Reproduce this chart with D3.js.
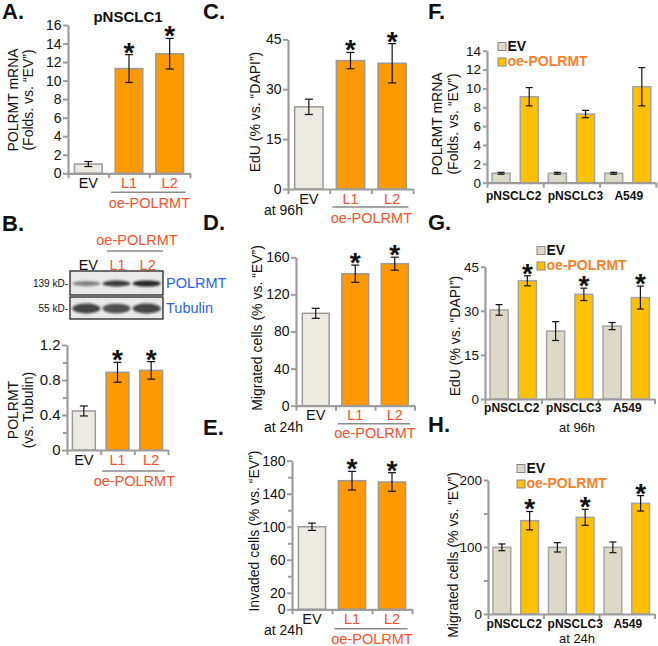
<!DOCTYPE html>
<html><head><meta charset="utf-8">
<script src="https://cdn.jsdelivr.net/npm/d3@7"></script>
<style>body{margin:0;background:#fff} svg{display:block} text{font-family:"Liberation Sans",Arial,sans-serif}</style>
</head><body><svg id="c" width="658" height="646"></svg>
<script>
// ---------- data ----------
const lanes = ["EV","L1","L2"];
const mrnaA = [1.0, 11.3, 12.9], mrnaAErr = [0.27, 1.5, 1.65];
const ticksA = [0,2,4,6,8,10,12,14,16];
const protB = [0.446, 0.888, 0.91], protBErr = [0.057, 0.114, 0.1];
const ticksB = [0,0.4,0.8,1.2], minorB = [0.2,0.6,1.0];
const bandPOLRMT = [0.5, 0.85, 0.95], bandTubulin = [0.8, 0.75, 0.8];
const edUC = [24.7, 38.6, 37.8], edUCErr = [2.3, 2.45, 5.9];
const ticksC = [0,15,30,45];
const migD = [99.6, 142.3, 153.1], migDErr = [5.4, 9.3, 7];
const ticksD = [0,40,80,120,160];
const invE = [100, 155.8, 154.2], invEErr = [4.4, 11.3, 11.3];
const ticksE = [0,20,60,100,140,180], minorE = [40,80,120,160];
const starsLanes = [false, true, true];
const cellLines = ["pNSCLC2","pNSCLC3","A549"];
const series = ["EV","oe-POLRMT"];
const mrnaFEV = [1,1,1], mrnaFEVErr = [0.1,0.1,0.1];
const mrnaFOE = [9.12, 7.28, 10.18], mrnaFOEErr = [0.97, 0.39, 2.03];
const ticksF = [0,2,4,6,8,10,12,14];
const edUGEV = [30.3, 23.1, 24.8], edUGEVErr = [1.8, 3.2, 1.2];
const edUGOE = [40.2, 35.6, 34.5], edUGOEErr = [1.7, 2.1, 3.9];
const ticksG = [0,15,30,45];
const migHEV = [99.5, 99.5, 99.5], migHEVErr = [5, 7, 8];
const migHOE = [139.3, 144.3, 165.2], migHOEErr = [13.7, 12, 11.5];
const ticksH = [0,100,200], minorH = [50,150];
const starsF = [false,false,false], starsGH = [true,true,true];

// ---------- style ----------
const RED = "#ff4f2b", BLUE = "#2563ff", LEGOR = "#ff7f2a";
const EV1 = "#edebe1", OR1 = "#ff9900", EV2 = "#ddd9c6", OR2 = "#ffc000";
const AX = "#9c9c9c";
const svg = d3.select("#c");

function styleAxis(g, fs) {
  g.attr("font-family", null);
  g.select(".domain").attr("stroke", AX).attr("stroke-width", 2.2);
  g.selectAll(".tick line").attr("stroke", AX).attr("stroke-width", 2);
  g.selectAll(".tick text").attr("font-size", fs).attr("fill", "#111");
}

function yAxis(ax, y, ticks, minor, fs, fmt, tsz, tpad) {
  const g = svg.append("g").attr("transform", `translate(${ax},0)`)
    .call(d3.axisLeft(y).tickValues(ticks).tickSize(tsz || 5).tickSizeOuter(0).tickPadding(tpad == null ? 1.5 : tpad).tickFormat(fmt || d3.format("")));
  styleAxis(g, fs);
  if (minor) {
    const m = svg.append("g").attr("transform", `translate(${ax},0)`)
      .call(d3.axisLeft(y).tickValues(minor).tickSize(4).tickFormat(""));
    m.select(".domain").remove();
    m.selectAll(".tick line").attr("stroke", AX).attr("stroke-width", 2);
  }
}

function xBase(ax, x1, y0, n) {
  const xl = d3.scaleLinear().domain([0, n]).range([ax, x1]);
  const g = svg.append("g").attr("transform", `translate(0,${y0})`)
    .call(d3.axisBottom(xl).tickValues(d3.range(n + 1)).tickSize(5).tickSizeOuter(0).tickFormat(""));
  styleAxis(g, 0);
}

function errBars(cx, y, vals, errs, cap) {
  vals.forEach((v, i) => {
    const x = cx(i), t = y(v + errs[i]), b = y(v - errs[i]);
    svg.append("line").attr("x1", x).attr("x2", x).attr("y1", t).attr("y2", b).attr("stroke", "#111").attr("stroke-width", 1.2);
    [t, b].forEach(yy => svg.append("line").attr("x1", x - cap).attr("x2", x + cap).attr("y1", yy).attr("y2", yy).attr("stroke", "#111").attr("stroke-width", 1.2));
  });
}

function stars(cx, y, vals, errs, flags) {
  vals.forEach((v, i) => {
    if (!flags[i]) return;
    svg.append("text").attr("x", cx(i)).attr("y", y(v + errs[i]) + 7).attr("text-anchor", "middle")
      .attr("font-size", 28).attr("font-weight", "bold").attr("fill", "#111").text("*");
  });
}

function yTitle(cx, cy, lines, fs) {
  lines.forEach((t, i) => {
    svg.append("text").attr("transform", `translate(${cx[i]},${cy}) rotate(-90)`)
      .attr("text-anchor", "middle").attr("dominant-baseline", "central")
      .attr("font-size", fs).attr("fill", "#111").text(t);
  });
}

function letter(x, y, t) {
  svg.append("text").attr("x", x).attr("y", y).attr("font-size", 22).attr("font-weight", "bold").attr("fill", "#111").text(t);
}

function simplePanel(o) {
  const x = d3.scaleBand().domain(lanes).range([o.ax, o.x1]).paddingInner(0.32).paddingOuter(0.16);
  const y = d3.scaleLinear().domain([0, o.max]).range([o.y0, o.yTop]);
  const cx = i => x(lanes[i]) + x.bandwidth() / 2;
  svg.append("g").selectAll("rect").data(o.vals).join("rect")
    .attr("x", (d, i) => x(lanes[i])).attr("width", x.bandwidth())
    .attr("y", d => y(d)).attr("height", d => y(0) - y(d))
    .attr("fill", (d, i) => i === 0 ? EV1 : OR1).attr("stroke", "#9a9a9a").attr("stroke-width", 1.5);
  errBars(cx, y, o.vals, o.errs, 4);
  stars(cx, y, o.vals, o.errs, starsLanes);
  yAxis(o.ax, y, o.ticks, o.minor, o.tfs || 14, o.fmt);
  xBase(o.ax, o.x1, o.y0, 3);
  const lab = svg.append("g").attr("transform", `translate(0,${o.y0})`)
    .call(d3.axisBottom(x).tickSize(0).tickPadding(o.labPad || 4.5));
  lab.attr("font-family", null).select(".domain").remove();
  lab.selectAll("text").attr("font-size", 14.5).attr("fill", d => d === "EV" ? "#111" : RED);
  const uy = o.y0 + (o.uOff || 19);
  svg.append("line").attr("x1", x("L1") - 4).attr("x2", x("L2") + x.bandwidth() + 2).attr("y1", uy).attr("y2", uy).attr("stroke", "#8a8a8a").attr("stroke-width", 1.5);
  svg.append("text").attr("x", (x("L1") + x("L2") + x.bandwidth()) / 2).attr("y", o.y0 + (o.oeOff || 34)).attr("text-anchor", "middle")
    .attr("font-size", 14.5).attr("fill", RED).text("oe-POLRMT");
  if (o.at) svg.append("text").attr("x", 264).attr("y", o.y0 + 26).attr("font-size", 14).attr("fill", "#111").text(o.at);
  return { x, y };
}

function groupPanel(o) {
  const x0 = d3.scaleBand().domain(cellLines).range([o.ax, o.ax + 3 * o.step]).padding(0);
  const x1 = d3.scaleBand().domain(series).range([0, x0.bandwidth()]).paddingInner(0.36).paddingOuter(0.18);
  const y = d3.scaleLinear().domain([0, o.max]).range([o.y0, o.yTop]);
  const sets = [[o.ev, o.evErr, EV2, "EV"], [o.oe, o.oeErr, OR2, "oe-POLRMT"]];
  sets.forEach(([vals, errs, fill, s], k) => {
    const cx = i => x0(cellLines[i]) + x1(s) + x1.bandwidth() / 2;
    svg.append("g").selectAll("rect").data(vals).join("rect")
      .attr("x", (d, i) => x0(cellLines[i]) + x1(s)).attr("width", x1.bandwidth())
      .attr("y", d => y(d)).attr("height", d => y(0) - y(d))
      .attr("fill", fill).attr("stroke", "#a5a5a5").attr("stroke-width", 1.5);
    errBars(cx, y, vals, errs, 3.5);
    if (k === 1) stars(cx, y, vals, errs, o.stars);
  });
  yAxis(o.ax, y, o.ticks, o.minor, 13.5, null, 4, 2);
  xBase(o.ax, o.ax + 3 * o.step, o.y0, 3);
  const lab = svg.append("g").attr("transform", `translate(0,${o.y0})`)
    .call(d3.axisBottom(x0).tickSize(0).tickPadding(o.labPad));
  lab.attr("font-family", null).select(".domain").remove();
  const shift = [-1.5, 4, 1];
  lab.selectAll("text").attr("font-size", 12).attr("font-weight", "bold").attr("fill", "#111")
    .attr("dx", (d, i) => shift[i]);
  series.forEach((s, i) => {
    const ly = o.legY + i * 15.5;
    svg.append("rect").attr("x", o.legX).attr("y", ly - 7.5).attr("width", 8).attr("height", 8)
      .attr("fill", i === 0 ? EV2 : OR2).attr("stroke", "#888").attr("stroke-width", 1);
    svg.append("text").attr("x", o.legX + 9.5).attr("y", ly + 0.5).attr("font-size", 14).attr("font-weight", "bold")
      .attr("fill", i === 0 ? "#111" : LEGOR).text(s);
  });
  if (o.at) svg.append("text").attr("x", 577).attr("y", o.atY).attr("text-anchor", "middle").attr("font-size", 13).attr("fill", "#111").text(o.at);
}

// ---------- Panel A ----------
letter(2, 19, "A.");
svg.append("text").attr("x", 128).attr("y", 22).attr("text-anchor", "middle").attr("font-size", 15).attr("font-weight", "bold").attr("fill", "#111").text("pNSCLC1");
simplePanel({ ax: 68, x1: 190, y0: 173.3, yTop: 25, max: 16, vals: mrnaA, errs: mrnaAErr, ticks: ticksA, uOff: 19, oeOff: 34.5 });
yTitle([13, 28], 100, ["POLRMT mRNA", "(Folds. vs. “EV”)"], 14);

// ---------- Panel B ----------
letter(2, 231, "B.");
svg.append("text").attr("x", 137).attr("y", 245).attr("text-anchor", "middle").attr("font-size", 14.5).attr("fill", RED).text("oe-POLRMT");
svg.append("line").attr("x1", 107).attr("x2", 163).attr("y1", 251).attr("y2", 251).attr("stroke", "#8a8a8a").attr("stroke-width", 1.5);
const blotX = d3.scaleBand().domain(lanes).range([70, 163]).padding(0.08);
lanes.forEach((l, i) => svg.append("text").attr("x", blotX(l) + blotX.bandwidth() / 2 + (i === 0 ? 2 : 1)).attr("y", 270)
  .attr("text-anchor", "middle").attr("font-size", 14.5).attr("fill", i === 0 ? "#111" : RED).text(l));
const defs = svg.append("defs");
defs.append("filter").attr("id", "blur").attr("x", "-30%").attr("y", "-100%").attr("width", "160%").attr("height", "300%")
  .append("feGaussianBlur").attr("stdDeviation", 1.1);
[[271, 24, bandPOLRMT, 3.0, "139 kD-", "POLRMT"], [297, 22, bandTubulin, 5.0, "55 kD-", "Tubulin"]].forEach(([by, bh, inten, ry, kd, name]) => {
  svg.append("rect").attr("x", 70).attr("y", by).attr("width", 93).attr("height", bh).attr("fill", "#e9e9e9").attr("stroke", "#222").attr("stroke-width", 1.3);
  inten.forEach((v, i) => {
    svg.append("ellipse").attr("cx", blotX(lanes[i]) + blotX.bandwidth() / 2).attr("cy", by + bh / 2 + 0.5)
      .attr("rx", 14).attr("ry", ry * (0.7 + 0.35 * v)).attr("fill", "#1a1a1a").attr("opacity", v).attr("filter", "url(#blur)");
  });
  svg.append("text").attr("x", 68).attr("y", by + bh / 2 + 3.5).attr("text-anchor", "end").attr("font-size", 10).attr("fill", "#111").text(kd);
  svg.append("text").attr("x", 166).attr("y", by + bh / 2 + 5).attr("font-size", 14.5).attr("fill", BLUE).text(name);
});
simplePanel({ ax: 67, x1: 168, y0: 450, yTop: 345, max: 1.2, vals: protB, errs: protBErr, ticks: ticksB, minor: minorB, tfs: 15, fmt: d => d === 0 ? "0" : d3.format(".1f")(d), labPad: 4.5, uOff: 21, oeOff: 36 });
yTitle([13, 28], 410, ["POLRMT", "(vs. Tubulin)"], 14);

// ---------- Panel C ----------
letter(203, 19, "C.");
simplePanel({ ax: 288, x1: 413, y0: 189, yTop: 39.3, max: 45, vals: edUC, errs: edUCErr, ticks: ticksC, at: "at 96h", uOff: 18, oeOff: 34 });
yTitle([255], 112, ["EdU (% vs. “DAPI”)"], 14);

// ---------- Panel D ----------
letter(203, 230, "D.");
simplePanel({ ax: 296, x1: 414.5, y0: 405.7, yTop: 257.3, max: 160, vals: migD, errs: migDErr, ticks: ticksD, at: "at 24h", uOff: 18, oeOff: 32 });
yTitle([256.5], 328, ["Migrated cells (% vs. “EV”)"], 14);

// ---------- Panel E ----------
letter(203, 435, "E.");
simplePanel({ ax: 292, x1: 412, y0: 609.3, yTop: 460.7, max: 180, vals: invE, errs: invEErr, ticks: ticksE, minor: minorE, at: "at 24h", uOff: 19.5, oeOff: 35 });
yTitle([254], 531, ["Invaded cells (% vs. “EV”)"], 14);

// ---------- Panel F ----------
letter(428, 19, "F.");
groupPanel({ ax: 487, step: 56.3, y0: 182.7, yTop: 50.7, max: 14, ev: mrnaFEV, evErr: mrnaFEVErr, oe: mrnaFOE, oeErr: mrnaFOEErr,
  ticks: ticksF, stars: starsF, labPad: 8.5, legX: 498, legY: 50 });
yTitle([437, 453], 124, ["POLRMT mRNA", "(Folds. vs. “EV”)"], 14);

// ---------- Panel G ----------
letter(428, 230, "G.");
groupPanel({ ax: 485, step: 56.5, y0: 399, yTop: 266.7, max: 45, ev: edUGEV, evErr: edUGEVErr, oe: edUGOE, oeErr: edUGOEErr,
  ticks: ticksG, stars: starsGH, labPad: 4, legX: 537, legY: 254, at: "at 96h", atY: 432 });
yTitle([455], 336, ["EdU (% vs. “DAPI”)"], 14);

// ---------- Panel H ----------
letter(428, 432, "H.");
groupPanel({ ax: 488, step: 55.5, y0: 614, yTop: 480, max: 200, ev: migHEV, evErr: migHEVErr, oe: migHOE, oeErr: migHOEErr,
  ticks: ticksH, minor: minorH, stars: starsGH, labPad: 5.5, legX: 517, legY: 472, at: "at 24h", atY: 642.5 });
yTitle([453], 555, ["Migrated cells (% vs. “EV”)"], 14);
</script></body></html>
